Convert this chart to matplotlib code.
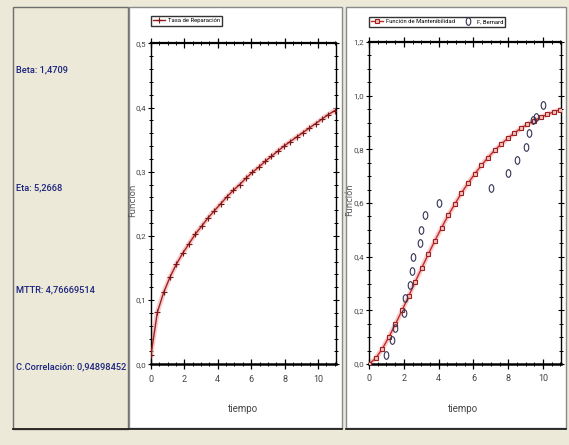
import matplotlib
matplotlib.use("Agg")
import matplotlib.pyplot as plt
from matplotlib.patches import Rectangle
from matplotlib.markers import MarkerStyle
from matplotlib.transforms import Affine2D
from matplotlib.ticker import MultipleLocator, FuncFormatter

# ---------------- data ----------------
info_labels = ["Beta: 1,4709", "Eta: 5,2668", "MTTR: 4,76669514", "C.Correlación: 0,94898452"]

t = [0.0, 0.38, 0.76, 1.14, 1.52, 1.90, 2.28, 2.66, 3.03, 3.41, 3.79, 4.17, 4.55, 4.93,
     5.31, 5.69, 6.07, 6.45, 6.83, 7.21, 7.59, 7.97, 8.34, 8.72, 9.10, 9.48, 9.86,
     10.24, 10.62, 11.0]

tasa_reparacion = [0.015, 0.081, 0.112, 0.136, 0.156, 0.173, 0.188, 0.203, 0.215, 0.228,
                   0.239, 0.250, 0.261, 0.271, 0.280, 0.290, 0.299, 0.307, 0.316, 0.324,
                   0.332, 0.340, 0.347, 0.354, 0.361, 0.368, 0.375, 0.382, 0.389, 0.395]

mantenibilidad = [0.0, 0.021, 0.056, 0.100, 0.149, 0.200, 0.253, 0.307, 0.358, 0.410,
                  0.460, 0.508, 0.554, 0.596, 0.637, 0.674, 0.708, 0.740, 0.769, 0.796,
                  0.819, 0.841, 0.860, 0.878, 0.893, 0.907, 0.919, 0.930, 0.940, 0.948]

bernard_t = [1.0, 1.35, 1.5, 2.0, 2.05, 2.35, 2.45, 2.5, 2.95, 2.97, 3.2, 4.0,
             7.0, 8.0, 8.5, 9.0, 9.2, 9.4, 9.6, 10.0]
bernard_f = [0.035, 0.09, 0.135, 0.19, 0.245, 0.295, 0.345, 0.40, 0.45, 0.50, 0.555, 0.60,
             0.655, 0.71, 0.76, 0.81, 0.86, 0.91, 0.92, 0.965]

# ---------------- figure ----------------
W, H = 569, 445
BG = "#ECE9D8"
fig = plt.figure(figsize=(W / 100, H / 100), dpi=100, facecolor=BG)

FONT = dict(family=["Roboto", "DejaVu Sans"], stretch="condensed")


def px_rect(x0, y0, x1, y1, **kw):
    r = Rectangle((x0 / W, 1 - y1 / H), (x1 - x0) / W, (y1 - y0) / H,
                  transform=fig.transFigure, zorder=-10, **kw)
    fig.add_artist(r)


# panels
px_rect(13, 7, 128, 429, facecolor=BG, edgecolor="#6e6e6e", linewidth=1.0)
px_rect(129, 7, 342, 428, facecolor="white", edgecolor="#8a8a8a", linewidth=1.0)
px_rect(346, 7, 566, 428, facecolor="white", edgecolor="#8a8a8a", linewidth=1.0)
for (a, b) in [(13, 128), (129, 342), (346, 566)]:
    fig.add_artist(plt.Line2D([a / W, b / W], [1 - 428.5 / H] * 2, color="#222222",
                              linewidth=1.3, transform=fig.transFigure, zorder=-9))

# info texts
for lab, y in zip(info_labels, [70, 188, 290, 367]):
    fig.text(16 / W, 1 - y / H, lab, color="#1a237e", fontsize=6.7, va="center",
             ha="left", fontweight="medium", **FONT)

comma = FuncFormatter(lambda v, p: ("%.1f" % v).replace(".", ","))


def style_axes(ax, xmax, ymax, ymajor, yminor):
    ax.set_xlim(0, xmax)
    ax.set_ylim(0, ymax)
    ax.xaxis.set_major_locator(MultipleLocator(2))
    ax.xaxis.set_minor_locator(MultipleLocator(0.5))
    ax.yaxis.set_major_locator(MultipleLocator(ymajor))
    ax.yaxis.set_minor_locator(MultipleLocator(yminor))
    ax.yaxis.set_major_formatter(comma)
    ax.xaxis.set_major_formatter(FuncFormatter(lambda v, p: "%d" % v))
    for s in ax.spines.values():
        s.set_color("black")
    ax.spines["bottom"].set_linewidth(1.8)
    ax.spines["top"].set_linewidth(1.6)
    ax.spines["left"].set_linewidth(1.0)
    ax.spines["right"].set_linewidth(1.0)
    ax.tick_params(axis="x", which="major", direction="inout", length=7, width=0.9,
                   top=True, labelsize=6.5, labelcolor="#444444", pad=4)
    ax.tick_params(axis="x", which="minor", direction="inout", length=3.5, width=0.7,
                   top=True)
    ax.tick_params(axis="y", which="major", direction="inout", length=4, width=0.8,
                   right=True, labelsize=5.8, labelcolor="#444444", pad=1.5)
    ax.tick_params(axis="y", which="minor", direction="inout", length=2.5, width=0.7,
                   right=True)
    for lab in ax.get_xticklabels() + ax.get_yticklabels():
        lab.set_family(FONT["family"])
    ax.set_facecolor("white")


# ---------------- left chart ----------------
ax1 = fig.add_axes([151 / W, 1 - 364.3 / H, (336 - 151) / W, (364.3 - 43.3) / H])
style_axes(ax1, 11.08, 0.5, 0.1, 0.02)
ax1.plot(t, tasa_reparacion, color="#f4b8b8", linewidth=3.5, alpha=0.7, zorder=2)
ax1.plot(t, tasa_reparacion, color="#a32020", linewidth=1.0, marker="+", markersize=4.5,
         markeredgewidth=0.8, markeredgecolor="#7a1818", label="Tasa de Reparación", zorder=3)
leg1 = ax1.legend(loc="upper left", bbox_to_anchor=(0.0, 1.085),
                  prop=dict(size=4.2, **FONT),
                  frameon=True, fancybox=False, borderpad=0.4, handlelength=2.0,
                  handletextpad=0.5, borderaxespad=0)
leg1.get_frame().set_edgecolor("black")
leg1.get_frame().set_linewidth(1.0)

fig.text(133 / W, 1 - 200 / H, "Funcion", rotation=90, fontsize=6.2, color="#555555",
         va="center", ha="center")
fig.text(243 / W, 1 - 409 / H, "tiempo", fontsize=7, color="#444444",
         va="center", ha="center", **FONT)

# ---------------- right chart ----------------
ax2 = fig.add_axes([369 / W, 1 - 364 / H, (561 - 369) / W, (364 - 42) / H])
style_axes(ax2, 11.03, 1.2, 0.2, 0.05)
ax2.plot(t, mantenibilidad, color="#f4b8b8", linewidth=3.5, alpha=0.7, zorder=2)
ax2.plot(t, mantenibilidad, color="#c42a2a", linewidth=1.0, marker="s", markersize=3.4,
         markerfacecolor="#f0c0c0", markeredgecolor="#a02020", markeredgewidth=0.8,
         label="Función de Mantenibilidad", zorder=3)
oval = MarkerStyle("o", transform=Affine2D().scale(0.6, 1.0))
ax2.plot(bernard_t, bernard_f, linestyle="none", marker=oval, markersize=5.5,
         markerfacecolor="none", markeredgecolor="#333355", markeredgewidth=0.8,
         label="F, Bernard", zorder=4)
leg2 = ax2.legend(loc="upper left", bbox_to_anchor=(0.0, 1.078), ncol=2,
                  prop=dict(size=4.2, **FONT),
                  frameon=True, fancybox=False, borderpad=0.4, handlelength=2.0,
                  handletextpad=0.5, columnspacing=1.2, borderaxespad=0)
leg2.get_frame().set_edgecolor("black")
leg2.get_frame().set_linewidth(1.0)

fig.text(349.5 / W, 1 - 200 / H, "Función", rotation=90, fontsize=6, color="#555555",
         va="center", ha="center")
fig.text(463 / W, 1 - 409 / H, "tiempo", fontsize=7, color="#444444",
         va="center", ha="center", **FONT)

fig.savefig("out.png", dpi=100, facecolor=BG)
